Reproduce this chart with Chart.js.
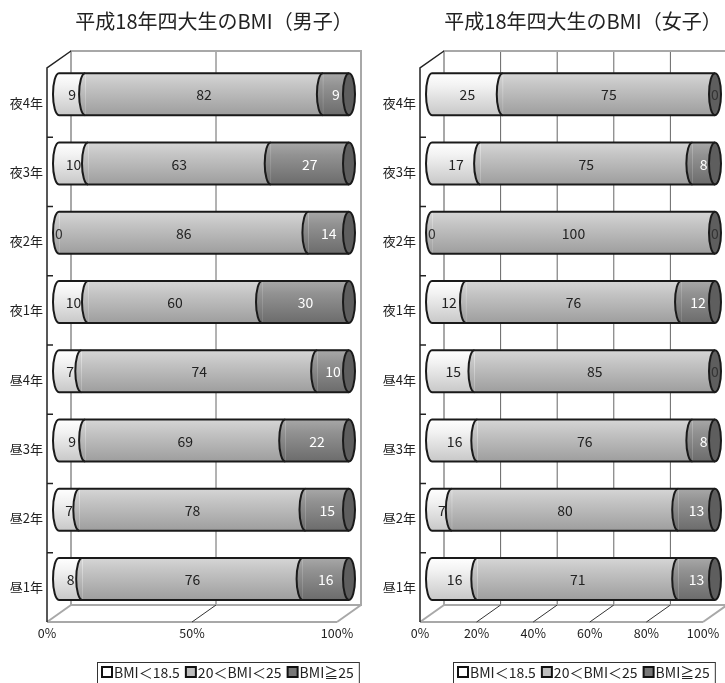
<!DOCTYPE html>
<html>
<head>
<meta charset="utf-8">
<script src="https://cdn.jsdelivr.net/npm/chart.js@4.4.0/dist/chart.umd.min.js"></script>
<style>
  body { margin: 0; background: #fff; }
  #wrap { position: relative; width: 725px; height: 683px; overflow: hidden; }
  .box { position: absolute; top: 0; }
</style>
</head>
<body>
<div id="wrap">
  <div class="box" style="left:0"><canvas id="male" width="370" height="683"></canvas></div>
  <div class="box" style="left:370px"><canvas id="female" width="355" height="683"></canvas></div>
</div>
<script>
// データ（上から順）
const categories = ['夜4年', '夜3年', '夜2年', '夜1年', '昼4年', '昼3年', '昼2年', '昼1年'];
const seriesNames = ['BMI＜18.5', '20＜BMI＜25', 'BMI≧25'];

const maleUnder  = [9, 10, 0, 10, 7, 9, 7, 8];
const maleNormal = [82, 63, 86, 60, 74, 69, 78, 76];
const maleOver   = [9, 27, 14, 30, 10, 22, 15, 16];

const femaleUnder  = [25, 17, 0, 12, 15, 16, 7, 16];
const femaleNormal = [75, 75, 100, 76, 85, 76, 80, 71];
const femaleOver   = [0, 8, 0, 12, 0, 8, 13, 13];

const maleTicks = [0, 50, 100];
const femaleTicks = [0, 20, 40, 60, 80, 100];

const FONT = '"Noto Sans CJK JP", "Noto Sans", sans-serif';
Chart.defaults.font.family = FONT;

// 円柱っぽい縦グラデーション
const shades = [
  ['#ffffff', '#f2f2f2', '#c8c8c8'],
  ['#d6d6d6', '#c4c4c4', '#9e9e9e'],
  ['#a8a8a8', '#929292', '#6c6c6c']
];
const legendFills = ['#ffffff', '#bdbdbd', '#777777'];
const textColors = ['#222', '#222', '#fff'];

function shade(stops) {
  return (c) => {
    const chart = c.chart;
    if (c.type !== 'data' || !chart.scales.y) return stops[1];
    const yc = chart.scales.y.getPixelForValue(c.dataIndex);
    if (!isFinite(yc)) return stops[1];
    const g = chart.ctx.createLinearGradient(0, yc - 21, 0, yc + 21);
    g.addColorStop(0, stops[0]);
    g.addColorStop(0.3, stops[1]);
    g.addColorStop(1, stops[2]);
    return g;
  };
}

// 100%積み上げ用に行ごとの割合へ
function toPercent(rows) {
  return rows.map((row, k) => row.map((v, j) => {
    const total = rows.reduce((s, r) => s + r[j], 0);
    return total ? v / total * 100 : 0;
  }));
}

// 3D風の枠（奥の壁・床・左軸）とタイトル・軸ラベル・凡例
const frame3d = {
  id: 'frame3d',
  beforeDatasetsDraw(chart, args, o) {
    const { ctx, chartArea: a } = chart;
    const x = chart.scales.x, y = chart.scales.y;
    const dx = o.dx, dy = o.dy;
    const bl = a.left + dx, br = a.right + dx, bt = a.top + dy, bb = a.bottom + dy;
    const fl = a.left - dx, fr = a.right - dx, ft = a.top - dy, fb = a.bottom - dy;
    ctx.save();

    // 奥の壁のグリッド線
    ctx.strokeStyle = '#666';
    ctx.lineWidth = 1;
    o.ticks.forEach(v => {
      if (v <= x.min || v >= x.max) return;
      const px = x.getPixelForValue(v) + dx;
      ctx.beginPath(); ctx.moveTo(px, bt); ctx.lineTo(px, bb); ctx.stroke();
    });

    // 奥の壁の枠
    ctx.strokeStyle = '#a8a8a8';
    ctx.lineWidth = 2;
    ctx.beginPath();
    ctx.moveTo(bl, bb); ctx.lineTo(bl, bt); ctx.lineTo(br, bt); ctx.lineTo(br, bb); ctx.lineTo(bl, bb);
    ctx.stroke();
    // 床
    ctx.beginPath(); ctx.moveTo(fl, fb); ctx.lineTo(fr, fb); ctx.stroke();
    ctx.beginPath(); ctx.moveTo(fl, fb); ctx.lineTo(bl, bb); ctx.stroke();
    ctx.beginPath(); ctx.moveTo(fr, fb); ctx.lineTo(br, bb); ctx.stroke();

    // 床の目盛り（斜線）
    ctx.strokeStyle = '#333';
    ctx.lineWidth = 1;
    o.ticks.forEach(v => {
      if (v <= x.min || v >= x.max) return;
      const px = x.getPixelForValue(v);
      ctx.beginPath(); ctx.moveTo(px - dx, fb); ctx.lineTo(px + dx, bb); ctx.stroke();
    });

    // 左軸
    ctx.strokeStyle = '#222';
    ctx.lineWidth = 1.5;
    ctx.beginPath(); ctx.moveTo(bl, bt); ctx.lineTo(fl, ft); ctx.lineTo(fl, fb); ctx.stroke();
    const n = chart.data.labels.length;
    const step = (fb - ft) / n;
    for (let i = 1; i < n; i++) {
      const yy = ft + step * i;
      ctx.beginPath(); ctx.moveTo(fl, yy); ctx.lineTo(fl + 6, yy); ctx.stroke();
    }

    // カテゴリラベル
    ctx.fillStyle = '#222';
    ctx.font = '13px ' + FONT;
    ctx.textAlign = 'right';
    ctx.textBaseline = 'middle';
    chart.data.labels.forEach((lab, i) => {
      ctx.fillText(lab, fl - 4, y.getPixelForValue(i) - dy);
    });

    // 横軸ラベル
    ctx.textAlign = 'center';
    ctx.font = '12.5px ' + FONT;
    o.ticks.forEach(v => {
      ctx.fillText(v + '%', x.getPixelForValue(v) - dx, fb + 11);
    });

    // タイトル
    ctx.font = '20px ' + FONT;
    ctx.fillStyle = '#222';
    ctx.textAlign = 'center';
    ctx.fillText(o.title, o.titleX, 21);

    // 凡例
    ctx.font = '14px ' + FONT;
    ctx.textAlign = 'left';
    let lx = o.legendX + 5;
    const ly = o.legendY;
    seriesNames.forEach((name, k) => {
      ctx.fillStyle = legendFills[k];
      ctx.fillRect(lx, ly - 5, 10, 10);
      ctx.strokeStyle = '#111';
      ctx.lineWidth = 2;
      ctx.strokeRect(lx, ly - 5, 10, 10);
      ctx.fillStyle = '#222';
      ctx.fillText(name, lx + 12, ly + 1);
      lx += 12 + ctx.measureText(name).width + 6;
    });
    ctx.strokeStyle = '#333';
    ctx.lineWidth = 1;
    ctx.strokeRect(o.legendX + 0.5, ly - 9.5, lx - o.legendX - 1, 30);

    ctx.restore();
  }
};

// 円柱の端・境目・数値ラベル
const cylinder = {
  id: 'cylinder',
  afterDatasetsDraw(chart, args, o) {
    const ctx = chart.ctx;
    const rx = o.rx;
    const metas = chart.data.datasets.map((d, i) => chart.getDatasetMeta(i));
    ctx.save();
    chart.data.labels.forEach((lab, j) => {
      const bars = metas.map(m => m.data[j]);
      const yc = bars[0].y;
      const ry = bars[0].height / 2;
      const left = Math.min(...bars.map(b => Math.min(b.base, b.x)));
      const right = Math.max(...bars.map(b => Math.max(b.base, b.x)));

      bars.forEach(b => {
        const x0 = Math.min(b.base, b.x), x1 = Math.max(b.base, b.x);
        if (x1 - x0 < 0.5) return;
        ctx.beginPath();
        ctx.ellipse(x0, yc, rx, ry, 0, Math.PI / 2, Math.PI * 1.5);
        ctx.closePath();
        ctx.fillStyle = b.options.backgroundColor;
        ctx.fill();
      });
      ctx.strokeStyle = '#1a1a1a';
      ctx.lineWidth = 2;
      bars.forEach(b => {
        const x0 = Math.min(b.base, b.x), x1 = Math.max(b.base, b.x);
        if (x1 - x0 < 0.5) return;
        ctx.beginPath();
        ctx.ellipse(x0, yc, rx, ry, 0, Math.PI / 2, Math.PI * 1.5);
        ctx.stroke();
      });
      // 右端のふた
      ctx.beginPath();
      ctx.ellipse(right, yc, rx, ry, 0, 0, Math.PI * 2);
      ctx.fillStyle = '#5e5e5e';
      ctx.fill();
      ctx.stroke();
      // 上下の輪郭
      ctx.beginPath();
      ctx.moveTo(left, yc - ry); ctx.lineTo(right, yc - ry);
      ctx.moveTo(left, yc + ry); ctx.lineTo(right, yc + ry);
      ctx.stroke();

      // 数値（元の値を表示）
      ctx.font = '14px ' + FONT;
      ctx.textAlign = 'center';
      ctx.textBaseline = 'middle';
      bars.forEach((b, k) => {
        const v = chart.data.datasets[k].values[j];
        ctx.fillStyle = v === 0 ? '#333' : textColors[k];
        ctx.fillText(String(v), (b.base + b.x) / 2, yc + 1);
      });
    });
    ctx.restore();
  }
};

function makeChart(id, under, normal, over, ticks, geo) {
  const raw = [under, normal, over];
  const pct = toPercent(raw);
  const chart = new Chart(document.getElementById(id), {
    type: 'bar',
    data: {
      labels: categories,
      datasets: seriesNames.map((name, k) => ({
        label: name,
        data: pct[k],
        values: raw[k],
        backgroundColor: shade(shades[k]),
        borderWidth: 0,
        barThickness: 42
      }))
    },
    options: {
      indexAxis: 'y',
      responsive: false,
      animation: false,
      layout: { padding: geo.padding },
      scales: {
        x: { stacked: true, min: 0, max: 100, display: false },
        y: { stacked: true, display: false }
      },
      plugins: {
        legend: { display: false },
        tooltip: { enabled: false },
        frame3d: {
          dx: 12, dy: -8.5, ticks: ticks,
          title: geo.title, titleX: geo.titleX,
          legendX: geo.legendX, legendY: 672
        },
        cylinder: { rx: 6 }
      }
    },
    plugins: [frame3d, cylinder]
  });
  chart.update();
  return chart;
}

makeChart('male', maleUnder, maleNormal, maleOver, maleTicks, {
  padding: { left: 59, right: 21, top: 59.5, bottom: 69.5 },
  title: '平成18年四大生のBMI（男子）', titleX: 214, legendX: 97
});
makeChart('female', femaleUnder, femaleNormal, femaleOver, femaleTicks, {
  padding: { left: 62, right: 10, top: 59.5, bottom: 69.5 },
  title: '平成18年四大生のBMI（女子）', titleX: 213, legendX: 83
});
</script>
</body>
</html>
